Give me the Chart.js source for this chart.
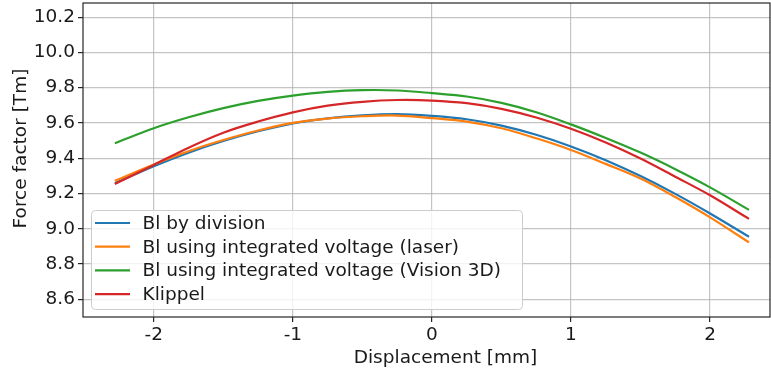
<!DOCTYPE html>
<html>
<head>
<meta charset="utf-8">
<script src="https://cdn.jsdelivr.net/npm/chart.js@4"></script>
<style>
  html, body { margin: 0; padding: 0; background: #fff; }
  canvas { display: block; }
</style>
</head>
<body>
<canvas id="bl-chart" width="771" height="372"></canvas>
<script>
// values
const displacement = [-2.28, -2, -1.75, -1.5, -1.25, -1, -0.75, -0.5, -0.25, 0, 0.25, 0.5, 0.75, 1, 1.25, 1.5, 1.75, 2, 2.28];
const blDivision = [9.258, 9.355, 9.432, 9.498, 9.553, 9.598, 9.626, 9.643, 9.65, 9.64, 9.621, 9.585, 9.533, 9.467, 9.389, 9.299, 9.198, 9.087, 8.955];
const blLaser    = [9.272, 9.365, 9.44, 9.503, 9.557, 9.6, 9.625, 9.638, 9.642, 9.627, 9.608, 9.57, 9.513, 9.447, 9.368, 9.285, 9.18, 9.065, 8.923];
const blVision   = [9.485, 9.57, 9.632, 9.684, 9.725, 9.755, 9.776, 9.786, 9.784, 9.769, 9.75, 9.714, 9.661, 9.592, 9.515, 9.432, 9.338, 9.235, 9.107];
const klippel    = [9.254, 9.362, 9.46, 9.545, 9.608, 9.66, 9.698, 9.72, 9.73, 9.727, 9.712, 9.68, 9.631, 9.567, 9.489, 9.398, 9.295, 9.19, 9.056];

const seriesLabels = ['Bl by division', 'Bl using integrated voltage (laser)', 'Bl using integrated voltage (Vision 3D)', 'Klippel'];
const seriesColors = ['#1f77b4', '#ff7f0e', '#2ca02c', '#d62728'];

const xTicks = [-2, -1, 0, 1, 2];
const xTickLabels = ['-2', '-1', '0', '1', '2'];
const yTicks = [8.6, 8.8, 9.0, 9.2, 9.4, 9.6, 9.8, 10.0, 10.2];
const yTickLabels = ['8.6', '8.8', '9.0', '9.2', '9.4', '9.6', '9.8', '10.0', '10.2'];

const xTitle = 'Displacement [mm]';
const yTitle = 'Force factor [Tm]';

const FONT = '"DejaVu Sans", sans-serif';
const FONT_SIZE = 18.5;
const TEXT = '#1a1a1a';

const toPoints = ys => ys.map((y, i) => ({ x: displacement[i], y }));

// frame, axis titles and the in-plot legend, matplotlib style
const decorations = {
    id: 'decorations',
    afterDatasetsDraw(chart) {
        const { ctx, chartArea: a } = chart;
        ctx.save();

        ctx.strokeStyle = '#262626';
        ctx.lineWidth = 1.2;
        ctx.strokeRect(a.left, a.top, a.right - a.left, a.bottom - a.top);

        // legend box
        const bx = 91, by = 210, bw = 431, bh = 99, r = 4;
        ctx.beginPath();
        ctx.roundRect(bx + 0.5, by + 0.5, bw, bh, r);
        ctx.fillStyle = 'rgba(255,255,255,0.8)';
        ctx.fill();
        ctx.strokeStyle = '#cccccc';
        ctx.lineWidth = 1;
        ctx.stroke();

        ctx.font = FONT_SIZE + 'px ' + FONT;
        ctx.textBaseline = 'middle';
        ctx.textAlign = 'left';
        chart.data.datasets.forEach((ds, i) => {
            const rowY = 223 + i * 23.7;
            ctx.strokeStyle = ds.borderColor;
            ctx.lineWidth = 2.2;
            ctx.beginPath();
            ctx.moveTo(95, rowY);
            ctx.lineTo(130, rowY);
            ctx.stroke();
            ctx.fillStyle = TEXT;
            ctx.fillText(ds.label, 142.5, rowY + 1);
        });

        // axis titles
        ctx.fillStyle = TEXT;
        ctx.textAlign = 'center';
        ctx.textBaseline = 'alphabetic';
        ctx.fillText(xTitle, 445.5, 363);

        ctx.translate(26, 148.5);
        ctx.rotate(-Math.PI / 2);
        ctx.fillText(yTitle, 0, 0);
        ctx.restore();
    }
};

const gridStyle = {
    color: 'rgba(176,176,176,0.75)',
    lineWidth: 1.2,
    drawTicks: true,
    tickLength: 5,
    tickColor: '#262626',
    tickWidth: 1.2
};

const noPad = axis => {
    axis.paddingTop = 0;
    axis.paddingBottom = 0;
    axis.paddingLeft = 0;
    axis.paddingRight = 0;
};

new Chart(document.getElementById('bl-chart'), {
    type: 'line',
    data: {
        datasets: [blDivision, blLaser, blVision, klippel].map((ys, i) => ({
            label: seriesLabels[i],
            data: toPoints(ys),
            borderColor: seriesColors[i],
            backgroundColor: seriesColors[i],
            borderWidth: 2.2,
            pointRadius: 0,
            tension: 0.35,
            fill: false,
            order: 3 - i
        }))
    },
    options: {
        responsive: false,
        animation: false,
        layout: { padding: { top: 3, right: 1, left: 0, bottom: 0 } },
        plugins: {
            legend: { display: false },
            tooltip: { enabled: false }
        },
        scales: {
            x: {
                type: 'linear',
                min: -2.509,
                max: 2.431,
                grid: gridStyle,
                border: { display: false },
                afterBuildTicks: axis => { axis.ticks = xTicks.map(v => ({ value: v })); },
                afterFit: axis => { axis.height = 55; noPad(axis); },
                ticks: {
                    padding: 2,
                    color: TEXT,
                    font: { family: FONT, size: FONT_SIZE },
                    maxRotation: 0,
                    callback: (v, i) => xTickLabels[i]
                }
            },
            y: {
                min: 8.5,
                max: 10.28,
                grid: gridStyle,
                border: { display: false },
                afterBuildTicks: axis => { axis.ticks = yTicks.map(v => ({ value: v })); },
                afterFit: axis => { axis.width = 83; noPad(axis); },
                ticks: {
                    padding: 3,
                    color: TEXT,
                    font: { family: FONT, size: FONT_SIZE },
                    callback: (v, i) => yTickLabels[i]
                }
            }
        }
    },
    plugins: [decorations]
});
</script>
</body>
</html>
